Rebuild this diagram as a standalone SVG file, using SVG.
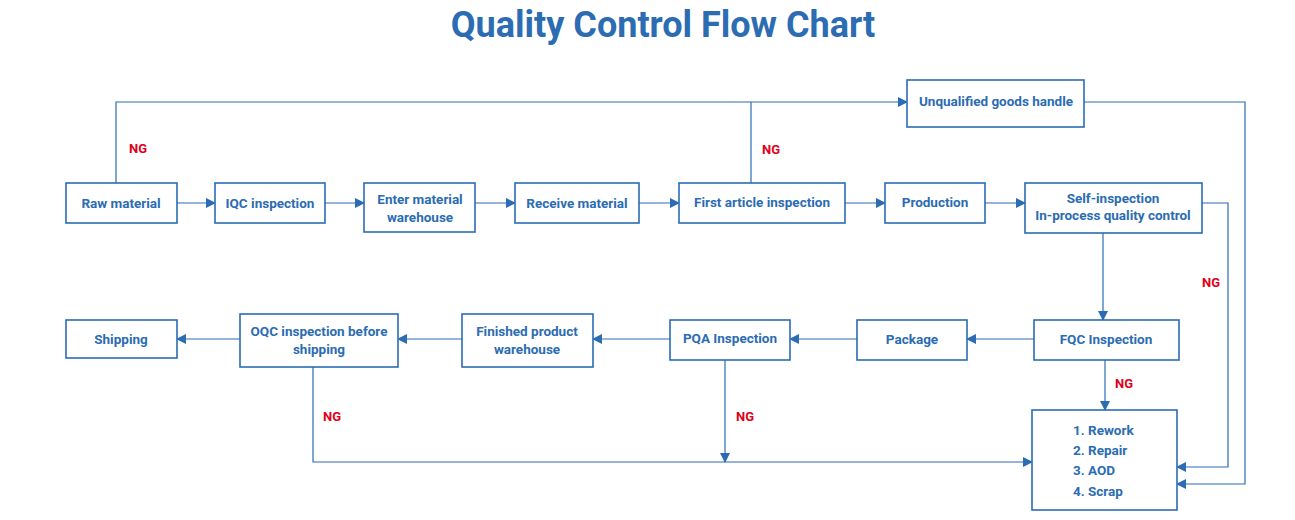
<svg xmlns="http://www.w3.org/2000/svg" width="1295" height="520" viewBox="0 0 1295 520">
<defs>
<marker id="a" markerWidth="10" markerHeight="10" refX="9" refY="5" orient="auto" markerUnits="userSpaceOnUse"><path d="M0,0 L10,5 L0,10 z" fill="#2b6cb3"/></marker>
<style>
rect{fill:#fff;stroke:#2b6cb3;stroke-width:1.6}
text{font-family:Roboto,"Liberation Sans",sans-serif;font-weight:bold;fill:#2b6cb3;font-size:13.5px;text-anchor:middle}
.ng{fill:#e0001a;font-size:13px}
#c path{fill:none;stroke:#2b6cb3;stroke-width:1.2}
</style>
</defs>
<rect x="0" y="0" width="1295" height="520" style="stroke:none"/>
<text x="663" y="37" style="font-size:36px">Quality Control Flow Chart</text>
<g id="c">
<path d="M116,183 V102 H907" marker-end="url(#a)"/>
<path d="M751,183 V102"/>
<path d="M1084,102 H1245 V484 H1177" marker-end="url(#a)"/>
<path d="M1202,203 H1228 V467 H1177" marker-end="url(#a)"/>
<path d="M177,203 H215" marker-end="url(#a)"/>
<path d="M325,203 H364" marker-end="url(#a)"/>
<path d="M475,203 H515" marker-end="url(#a)"/>
<path d="M639,203 H679" marker-end="url(#a)"/>
<path d="M845,203 H885" marker-end="url(#a)"/>
<path d="M985,203 H1025" marker-end="url(#a)"/>
<path d="M1103,233 V320" marker-end="url(#a)"/>
<path d="M1105,360 V410" marker-end="url(#a)"/>
<path d="M1034,339 H967" marker-end="url(#a)"/>
<path d="M857,339 H790" marker-end="url(#a)"/>
<path d="M670,339 H593" marker-end="url(#a)"/>
<path d="M462,339 H398" marker-end="url(#a)"/>
<path d="M240,339 H177" marker-end="url(#a)"/>
<path d="M313,367 V462 H1032" marker-end="url(#a)"/>
<path d="M725,360 V462" marker-end="url(#a)"/>
</g>
<g id="ng">
<text class="ng" x="138" y="153">NG</text>
<text class="ng" x="771" y="154">NG</text>
<text class="ng" x="1211" y="287">NG</text>
<text class="ng" x="1124" y="388">NG</text>
<text class="ng" x="332" y="421">NG</text>
<text class="ng" x="745" y="421">NG</text>
</g>
<g id="raw"><rect x="66" y="183" width="111" height="40"/><text x="121" y="208">Raw material</text></g>
<g id="iqc"><rect x="215" y="183" width="110" height="40"/><text x="270" y="208">IQC inspection</text></g>
<g id="enter"><rect x="364" y="183" width="111" height="49"/><text x="420" y="204">Enter material</text><text x="420" y="222">warehouse</text></g>
<g id="receive"><rect x="515" y="183" width="124" height="40"/><text x="577" y="208">Receive material</text></g>
<g id="first"><rect x="679" y="183" width="166" height="40"/><text x="762" y="207">First article inspection</text></g>
<g id="prod"><rect x="885" y="183" width="100" height="40"/><text x="935" y="207">Production</text></g>
<g id="self"><rect x="1025" y="183" width="177" height="50"/><text x="1113" y="203">Self-inspection</text><text x="1113" y="220">In-process quality control</text></g>
<g id="unq"><rect x="907" y="80" width="177" height="47"/><text x="996" y="106">Unqualified goods handle</text></g>
<g id="fqc"><rect x="1034" y="320" width="145" height="40"/><text x="1106" y="344">FQC Inspection</text></g>
<g id="pkg"><rect x="857" y="320" width="110" height="40"/><text x="912" y="344">Package</text></g>
<g id="pqa"><rect x="670" y="320" width="120" height="40"/><text x="730" y="343">PQA Inspection</text></g>
<g id="fin"><rect x="462" y="314" width="131" height="53"/><text x="527" y="336">Finished product</text><text x="527" y="354">warehouse</text></g>
<g id="oqc"><rect x="240" y="314" width="158" height="53"/><text x="319" y="336">OQC inspection before</text><text x="319" y="354">shipping</text></g>
<g id="ship"><rect x="66" y="320" width="111" height="38"/><text x="121" y="344">Shipping</text></g>
<g id="res"><rect x="1032" y="410" width="145" height="100"/>
<text x="1073" y="435" style="text-anchor:start">1. Rework</text>
<text x="1073" y="455" style="text-anchor:start">2. Repair</text>
<text x="1073" y="475" style="text-anchor:start">3. AOD</text>
<text x="1073" y="496" style="text-anchor:start">4. Scrap</text></g>
</svg>
